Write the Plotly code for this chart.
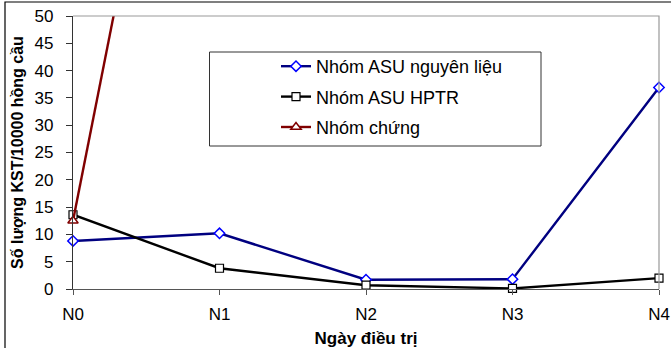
import plotly.graph_objects as go

days = ["N0", "N1", "N2", "N3", "N4"]
asu_nguyen_lieu = [8.8, 10.2, 1.7, 1.8, 36.9]
asu_hptr = [13.6, 3.8, 0.7, 0.1, 2.0]
nhom_chung = [12.5, 148, None, None, None]
y_ticks = [0, 5, 10, 15, 20, 25, 30, 35, 40, 45, 50]

W, H = 671, 348
L, R, T, B = 73, 12, 16, 59
pw, ph = W - L - R, H - T - B

def px(xp):
    return (xp - L) / pw

def py(yp):
    return (H - B - yp) / ph

FONT = "Liberation Sans, Arial, sans-serif"

fig = go.Figure()
fig.add_trace(go.Scatter(
    x=days, y=asu_nguyen_lieu, name="Nhóm ASU nguyên liệu", mode="lines+markers",
    line=dict(color="#000080", width=2.4),
    marker=dict(symbol="diamond", size=8, color="white", line=dict(color="#0000FF", width=1.5)),
    cliponaxis=False, legendgroup="a"))
fig.add_trace(go.Scatter(
    x=days, y=asu_hptr, name="Nhóm ASU HPTR", mode="lines+markers",
    line=dict(color="#000000", width=2.4),
    marker=dict(symbol="square", size=8, color="white", line=dict(color="#000000", width=1.2)),
    cliponaxis=False, legendgroup="b"))
fig.add_trace(go.Scatter(
    x=days, y=nhom_chung, name="Nhóm chứng", mode="lines+markers",
    line=dict(color="#800000", width=2.4),
    marker=dict(symbol="triangle-up", size=9, color="white", line=dict(color="#800000", width=1.5)),
    cliponaxis=False, legendgroup="c"))

fig.update_layout(
    width=W, height=H,
    margin=dict(l=L, r=R, t=T, b=B, autoexpand=False),
    paper_bgcolor="white", plot_bgcolor="white",
    font=dict(family=FONT, size=17, color="#000000"),
    showlegend=True,
    legend=dict(
        x=px(276), y=py(48), xanchor="left", yanchor="top",
        bgcolor="rgba(0,0,0,0)", borderwidth=0,
        font=dict(family=FONT, size=18, color="#000000"),
        tracegroupgap=4, traceorder="grouped",
    ),
    xaxis=dict(
        type="category", categoryorder="array", categoryarray=days,
        range=[0, 4], showgrid=False, zeroline=False, automargin=False,
        showline=True, linecolor="#555555", linewidth=1.2,
        ticks="outside", ticklen=5, tickcolor="#555555",
        ticklabelstandoff=4,
        tickfont=dict(family=FONT, size=17),
        title=dict(text="<b>Ngày điều trị</b>", font=dict(family=FONT, size=17), standoff=9),
    ),
    yaxis=dict(
        range=[0, 50], tickvals=y_ticks, showgrid=False, zeroline=False, automargin=False,
        showline=True, linecolor="#333333", linewidth=1.2,
        ticks="outside", ticklen=6, tickcolor="#333333",
        ticklabelstandoff=9,
        tickfont=dict(family=FONT, size=17),
        title=dict(text="<b>Số lượng KST/10000 hồng cầu</b>", font=dict(family=FONT, size=16), standoff=6),
    ),
    shapes=[
        dict(type="path", xref="paper", yref="paper",
             path="M 0,1 L 1,1 L 1,0", line=dict(color="#999999", width=1.2)),
        dict(type="rect", xref="paper", yref="paper",
             x0=px(209.5), x1=px(541), y0=py(146), y1=py(52),
             line=dict(color="#333333", width=1), fillcolor="white", layer="below"),
        dict(type="rect", xref="paper", yref="paper",
             x0=px(5), x1=px(700), y0=py(400), y1=py(2),
             line=dict(color="#000000", width=1.2)),
    ],
)

fig.write_html("out.html")
